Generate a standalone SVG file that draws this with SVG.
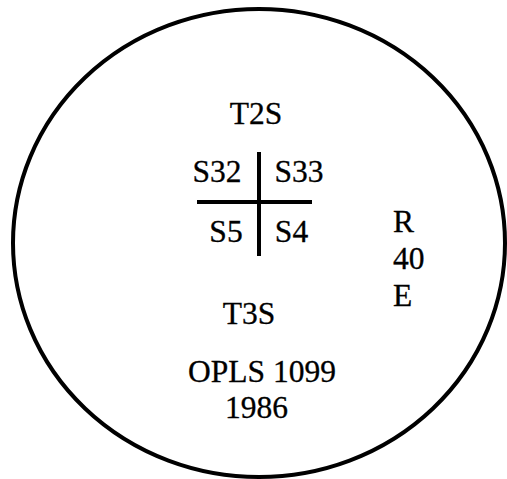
<svg xmlns="http://www.w3.org/2000/svg" width="507" height="479" viewBox="0 0 507 479">
<style>
.t{font-size:31.5px;fill:#000;stroke:#000;stroke-width:0.3;text-anchor:middle}
.ln{stroke:#000;stroke-width:4;fill:none}
</style>
<rect width="507" height="479" fill="#fff"/>
<g id="marker"><ellipse class="ln" cx="259" cy="243" rx="246" ry="234"/></g>
<g id="connectors">
<line class="ln" x1="259" y1="152" x2="259" y2="256"/>
<line class="ln" x1="197" y1="202" x2="312" y2="202"/>
</g>
<g font-family="Liberation Serif, Tinos, Times New Roman, DejaVu Serif, serif">
<g id="t2s"><text class="t" x="256" y="124">T2S</text></g>
<g id="s32"><text class="t" x="217" y="182">S32</text></g>
<g id="s33"><text class="t" x="299" y="182">S33</text></g>
<g id="s5"><text class="t" x="226" y="242">S5</text></g>
<g id="s4"><text class="t" x="291.5" y="242">S4</text></g>
<g id="range"><text class="t" x="393" y="232" style="text-anchor:start">R</text><text class="t" x="393" y="269" style="text-anchor:start">40</text><text class="t" x="393" y="306" style="text-anchor:start">E</text></g>
<g id="t3s"><text class="t" x="249" y="324">T3S</text></g>
<g id="opls"><text class="t" x="262" y="382">OPLS 1099</text><text class="t" x="256.5" y="418">1986</text></g>
</g>
</svg>
